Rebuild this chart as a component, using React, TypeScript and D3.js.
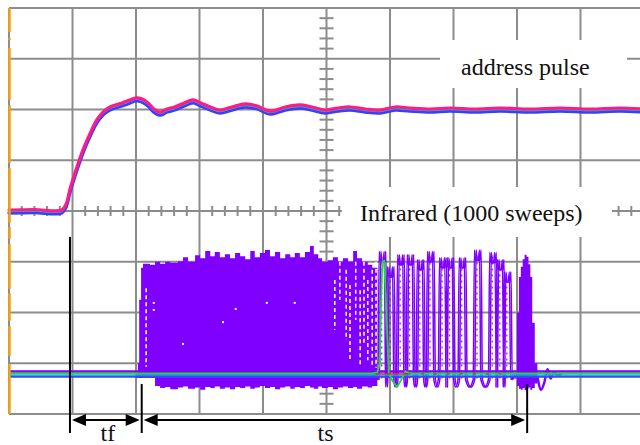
import React from "react";
import * as d3 from "d3";

const W = 640;
const H = 445;

// Screen grid: 10 time divisions x 8 voltage divisions, 100 units per division
const timeDivs = d3.range(0, 1001, 100);
const voltDivs = d3.range(-400, 401, 100);
const minorTimeTicks = d3.range(20, 1000, 20).filter((t) => t % 100 !== 0);
const minorVoltTicks = d3.range(-380, 400, 20).filter((v) => v % 100 !== 0);

// Channel 1: address pulse (averaged sweeps)
const addrTime = [0, 40, 83, 90, 96, 106, 117, 128, 139, 148, 159, 178, 191, 200, 209, 219, 228, 238, 249, 261, 276, 290, 302, 317, 332, 351, 372, 391, 411, 435, 458, 477, 498, 518, 537, 561, 584, 608, 631, 663, 694, 734, 773, 820, 868, 915, 962, 1000];
const addrVolt = [0, 1, 0, 12, 41, 81, 120, 152, 179, 193, 203, 211, 217, 221, 219, 211, 199, 193, 199, 203, 211, 217, 211, 203, 197, 203, 209, 205, 195, 203, 207, 203, 197, 201, 203, 199, 197, 203, 201, 199, 201, 199, 201, 199, 201, 199, 201, 199];

// Channel 2: infrared detector, 1000 sweeps overlaid
const irBaseline = -321;

// Dense part of the overlaid sweeps (upper and lower envelope)
const irEnvTime = [200, 203, 205, 208, 211, 222, 230, 238, 246, 254, 266, 274, 282, 293, 301, 309, 317, 324, 332, 340, 348, 356, 364, 372, 380, 387, 395, 403, 411, 419, 427, 435, 443, 450, 458, 466, 474, 480, 487, 493, 502, 510, 518, 526, 534, 542, 548, 556, 565, 572, 580];
const irEnvTop = [-321, -300, -175, -112, -104, -106, -100, -104, -100, -102, -99, -91, -100, -87, -93, -79, -89, -81, -91, -85, -93, -83, -89, -95, -79, -91, -83, -77, -89, -81, -93, -85, -91, -83, -91, -81, -69, -85, -93, -100, -97, -91, -100, -93, -100, -79, -93, -100, -106, -112, -110];
const irEnvBottom = [-329, -329, -329, -329, -329, -329, -345, -349, -347, -351, -348, -346, -350, -348, -352, -347, -349, -346, -350, -348, -351, -347, -349, -346, -350, -348, -345, -349, -347, -351, -348, -346, -350, -347, -349, -345, -348, -350, -346, -349, -347, -351, -348, -346, -349, -347, -350, -346, -348, -345, -343];

// Separated oscillation cycles after the dense part
const pulseTime = [587, 600, 616, 631, 647, 663, 682, 694, 713, 737, 761, 773, 784];
const pulseVolt = [-100, -130, -106, -106, -116, -100, -112, -112, -112, -97, -102, -116, -140];

// Last burst and its ringing tail
const burstTime = [796, 800, 803, 806, 809, 812, 815, 818, 821, 824, 828, 832];
const burstTop = [-321, -200, -130, -110, -95, -86, -90, -105, -130, -220, -300, -321];
const burstBottom = [-330, -345, -350, -352, -349, -353, -350, -348, -352, -349, -340, -330];
const tailTime = [832, 838, 843, 848, 853, 858, 864, 870];
const tailVolt = [-325, -352, -338, -312, -330, -318, -324, -321];

// Single highlighted sweep
const greenTime = [0, 572, 580, 584, 586, 588, 591, 594, 598, 604, 611, 618, 624, 632, 1000];
const greenVolt = [-320, -320, -318, -300, -180, -100, -98, -190, -318, -335, -347, -332, -316, -320, -320];

// Sparse gaps inside the overlaid sweeps
const streakTime = [216, 513, 521, 531, 537, 546, 553, 559, 565, 572, 578];
const streakTop = [-152, -136, -100, -116, -146, -100, -156, -100, -136, -116, -100];
const streakBottom = [-307, -234, -175, -254, -294, -215, -303, -264, -294, -303, -309];
const dotTime = [228, 228, 274, 337, 357, 406, 450];
const dotVolt = [-181, -195, -262, -219, -193, -181, -181];

// Timing markers: start of address rise, start and end of infrared burst
const markerTime = [96, 209, 816];
const markerTop = [-51, -341, -341];
const timingLabels = ["tf", "ts"];

const SERIF = "Liberation Serif";
const GRID = "#8c8c8c";
const PURPLE = "#7f00ff";

export default function App() {
  const x = d3.scaleLinear().domain([0, 1000]).range([9, 644]);
  const y = d3.scaleLinear().domain([-400, 400]).range([414, 8]);
  const top = y(400);
  const bottom = y(-400);
  const left = x(0);
  const right = x(1000);

  const addrLine = d3
    .line<number>()
    .x((_, i) => x(addrTime[i]))
    .y((d) => y(d))
    .curve(d3.curveCatmullRom.alpha(0.5));

  const envArea = d3
    .area<number>()
    .x((_, i) => x(irEnvTime[i]))
    .y0((_, i) => y(irEnvBottom[i]))
    .y1((d) => y(d))
    .curve(d3.curveStepAfter);

  const burstArea = d3
    .area<number>()
    .x((_, i) => x(burstTime[i]))
    .y0((_, i) => y(burstBottom[i]))
    .y1((d) => y(d))
    .curve(d3.curveStepAfter);

  const tailLine = d3
    .line<number>()
    .x((_, i) => x(tailTime[i]))
    .y((d) => y(d))
    .curve(d3.curveMonotoneX);

  const greenLine = d3
    .line<number>()
    .x((_, i) => x(greenTime[i]))
    .y((d) => y(d));

  // Build the oscillation waveform from cycle peaks
  const pulsePts: [number, number][] = [[575, irBaseline]];
  pulseTime.forEach((c, i) => {
    const v = pulseVolt[i];
    pulsePts.push([c - 6, -332], [c - 4, v + 20], [c - 2, v], [c + 2, v], [c + 4, v + 20], [c + 6, -332]);
    if (i < pulseTime.length - 1) pulsePts.push([(c + pulseTime[i + 1]) / 2, -347]);
  });
  pulsePts.push([796, irBaseline]);
  const pulseLine = (dt: number) =>
    d3
      .line<[number, number]>()
      .x((d) => x(d[0] + dt))
      .y((d) => y(d[1]))
      .curve(d3.curveMonotoneX)(pulsePts) || "";

  const arrowY = 420;
  const markerBottom = 433;
  const head = (tipX: number, dir: number) =>
    `M${tipX},${arrowY} L${tipX + dir * 14},${arrowY - 6} L${tipX + dir * 14},${arrowY + 6} Z`;
  const spans = [
    [x(markerTime[0]) + 2, x(markerTime[1]) - 2],
    [x(markerTime[1]) + 2, x(markerTime[2]) - 2],
  ];
  const labelX = [(x(markerTime[0]) + x(markerTime[1])) / 2 + 2, x(500) - 1];
  const textStyle = { fontFamily: SERIF };

  return (
    <svg
      width={W}
      height={H}
      style={{ position: "absolute", left: 0, top: 0, background: "#fff" }}
    >
      {/* grid */}
      <g stroke={GRID} strokeWidth={2}>
        {timeDivs.map((t) => (
          <line key={"v" + t} x1={x(t)} x2={x(t)} y1={top} y2={bottom} />
        ))}
        {voltDivs.map((v) => (
          <line key={"h" + v} x1={left} x2={right} y1={y(v)} y2={y(v)} />
        ))}
        {minorTimeTicks.map((t) => (
          <line key={"mt" + t} x1={x(t)} x2={x(t)} y1={y(0) - 5} y2={y(0) + 5} />
        ))}
        {minorVoltTicks.map((v) => (
          <line key={"mv" + v} x1={x(500) - 7} x2={x(500) + 7} y1={y(v)} y2={y(v)} />
        ))}
      </g>

      {/* label backgrounds */}
      <rect x={440} y={40} width={187} height={48} fill="#fff" />
      <rect x={342} y={187} width={270} height={50} fill="#fff" />
      <text x={461} y={75} style={textStyle} fontSize={24} fill="#111">
        address pulse
      </text>
      <text x={360} y={221} style={textStyle} fontSize={24} fill="#111">
        Infrared (1000 sweeps)
      </text>

      {/* address pulse trace */}
      <g fill="none" strokeLinejoin="round" strokeLinecap="round">
        <path d={addrLine(addrVolt) || ""} stroke="#3c3cff" strokeWidth={3.4} transform="translate(0,2)" />
        <path d={addrLine(addrVolt) || ""} stroke="#20c0a0" strokeWidth={1.2} transform="translate(0,0.6)" />
        <path d={addrLine(addrVolt) || ""} stroke="#ff1a8c" strokeWidth={3.2} transform="translate(0,-1)" />
      </g>

      {/* infrared overlaid sweeps */}
      <path d={envArea(irEnvTop) || ""} fill={PURPLE} />
      <g fill="none" stroke={PURPLE} strokeWidth={1.5} strokeLinejoin="round">
        <path d={pulseLine(0)} />
        <path d={pulseLine(2.5)} />
      </g>
      <g stroke={PURPLE} strokeWidth={1.1} strokeDasharray="2 4">
        {pulseTime.map((c, i) => (
          <line key={"pd" + c} x1={x(c)} x2={x(c)} y1={y(-330)} y2={y(pulseVolt[i] + 12)} />
        ))}
      </g>
      <path d={burstArea(burstTop) || ""} fill={PURPLE} />
      <path d={tailLine(tailVolt) || ""} fill="none" stroke={PURPLE} strokeWidth={2.5} />

      {/* gaps inside the dense region */}
      <g stroke="#fff" strokeWidth={1.5} strokeDasharray="4 3">
        {streakTime.map((t, i) => (
          <line key={"s" + t} x1={x(t)} x2={x(t)} y1={y(streakTop[i])} y2={y(streakBottom[i])} />
        ))}
      </g>
      <g fill="#fff">
        {dotTime.map((t, i) => (
          <rect key={"d" + i} x={x(t) - 1} y={y(dotVolt[i]) - 1} width={2} height={2} />
        ))}
      </g>

      {/* infrared baseline band */}
      <g fill="none">
        <line x1={left} x2={right} y1={y(irBaseline) - 2.5} y2={y(irBaseline) - 2.5} stroke={PURPLE} strokeWidth={2.5} />
        <line x1={left} x2={right} y1={y(irBaseline) + 2.5} y2={y(irBaseline) + 2.5} stroke="#2f4dff" strokeWidth={2.5} />
        <line x1={left} x2={right} y1={y(irBaseline) + 1} y2={y(irBaseline) + 1} stroke="#10c8d0" strokeWidth={1.2} />
      </g>
      <path d={greenLine(greenVolt) || ""} fill="none" stroke="#22d83a" strokeWidth={1.8} strokeLinejoin="round" />
      <line x1={x(578)} x2={x(628)} y1={y(irBaseline)} y2={y(irBaseline)} stroke="#e02828" strokeWidth={1.4} />
      <line x1={x(628)} x2={x(790)} y1={y(irBaseline)} y2={y(irBaseline)} stroke="#e02828" strokeWidth={1.4} strokeDasharray="3 10" />

      {/* left edge marker */}
      <line
        x1={left + 0.5}
        x2={left + 0.5}
        y1={top}
        y2={bottom}
        stroke="#f2a20c"
        strokeWidth={2.5}
        strokeDasharray="24 6 2 8 52 5 58 5 55 4 12 5 45 4 28 5 30 8 60"
      />

      {/* timing annotations */}
      <g stroke="#000" strokeWidth={2}>
        {markerTime.map((t, i) => (
          <line key={"m" + t} x1={x(t)} x2={x(t)} y1={y(markerTop[i])} y2={markerBottom} />
        ))}
        {spans.map(([a, b], i) => (
          <line key={"sp" + i} x1={a + 10} x2={b - 10} y1={arrowY} y2={arrowY} />
        ))}
      </g>
      <g fill="#000">
        {spans.map(([a, b], i) => (
          <g key={"ah" + i}>
            <path d={head(a, 1)} />
            <path d={head(b, -1)} />
          </g>
        ))}
      </g>
      {timingLabels.map((lab, i) => (
        <text key={lab} x={labelX[i]} y={441} textAnchor="middle" style={textStyle} fontSize={24} fill="#111">
          {lab}
        </text>
      ))}
    </svg>
  );
}
